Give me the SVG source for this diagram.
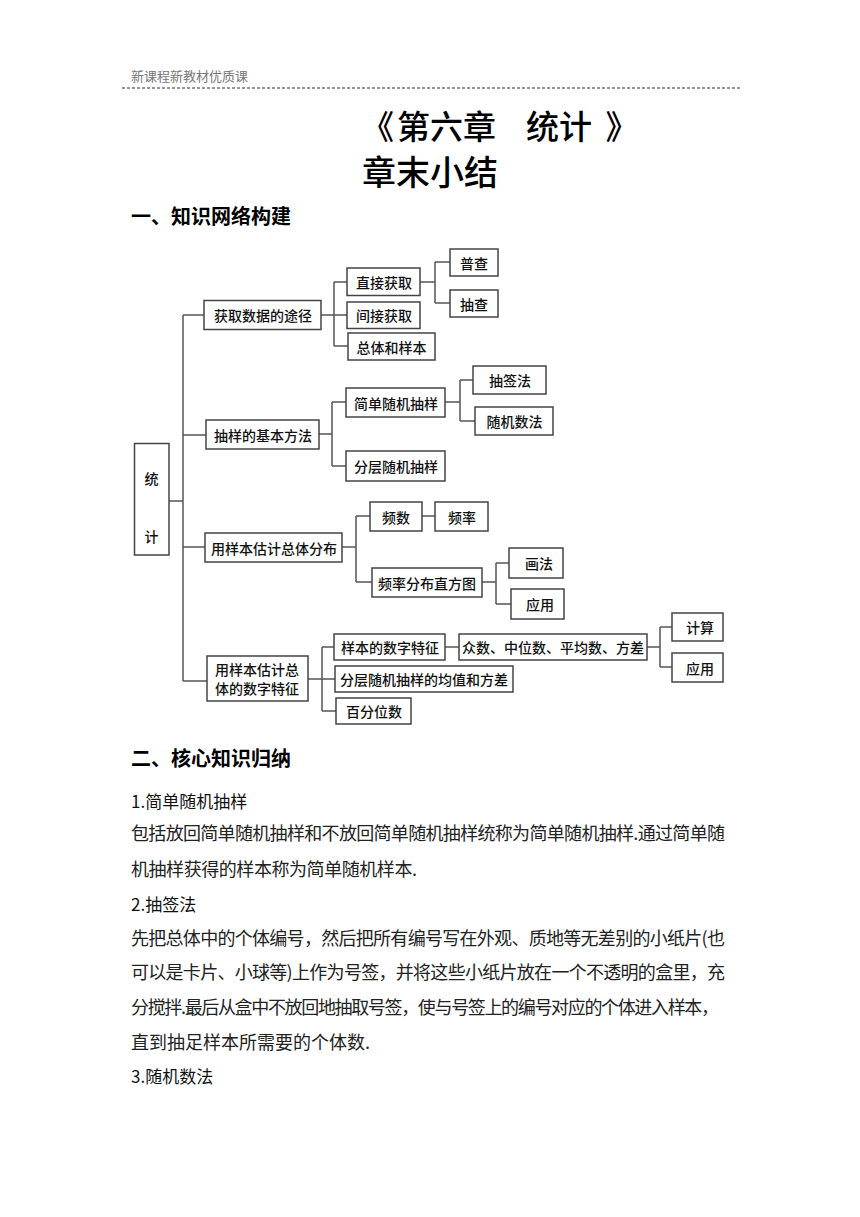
<svg xmlns="http://www.w3.org/2000/svg" width="860" height="1217" viewBox="0 0 860 1217">
<style>
text{font-family:"Noto Sans CJK SC","Noto Sans",sans-serif;dominant-baseline:central;}
.hdr{font-size:13px;fill:#777;}
.t1{font-size:33px;font-weight:500;fill:#000;}
.t2{font-size:34px;font-weight:500;fill:#000;}
.sec{font-size:20px;font-weight:bold;fill:#000;}
.sub{font-size:17px;fill:#111;}
.body{font-size:18px;fill:#222;}
.box rect{fill:#fff;stroke:#444;stroke-width:1.5;}
.box text{font-size:14px;font-weight:500;fill:#111;text-anchor:middle;}
.conn path{fill:none;stroke:#555;stroke-width:1.5;}
</style>
<rect width="860" height="1217" fill="#fff"/>
<text class="hdr" x="131" y="75">新课程新教材优质课</text>
<line x1="122" y1="88" x2="740" y2="88" stroke="#333" stroke-width="1" stroke-dasharray="3,2"/>
<text class="t1" x="394" y="125" text-anchor="end">《</text>
<text class="t1" x="397" y="125">第六章</text>
<text class="t1" x="526" y="125">统计</text>
<text class="t1" x="622" y="125" text-anchor="middle">》</text>
<text class="t2" x="362" y="170">章末小结</text>
<text class="sec" x="131" y="215">一、知识网络构建</text>

<g class="conn">
<path d="M183,315 V681 M183,315 H204 M183,435 H206 M183,547 H205 M183,681 H207 M169,501 H183"/>
<path d="M321,315 H334 M334,282 V346 M334,282 H347 M334,315 H347 M334,346 H348"/>
<path d="M420,282 H435 M435,262 V303 M435,262 H450 M435,303 H450"/>
<path d="M319,434 H332 M332,402 V466 M332,402 H346 M332,466 H346"/>
<path d="M445,402 H460 M460,380 V421 M460,380 H473 M460,421 H475"/>
<path d="M342,547 H356 M356,516 V582 M356,516 H370 M356,582 H372 M422,516 H435"/>
<path d="M482,582 H496 M496,563 V604 M496,563 H509 M496,604 H511"/>
<path d="M308,679 H322 M322,647 V711 M322,647 H334 M322,679 H335 M322,711 H336 M445,647 H459"/>
<path d="M647,647 H660 M660,627 V667 M660,627 H672 M660,667 H672"/>
</g>

<g id="n-tongji" class="box"><rect x="134.5" y="443.5" width="34.5" height="111.5"/><text x="151.5" y="478">统</text><text x="151.5" y="536">计</text></g>

<g id="n-huoqu" class="box"><rect x="204" y="300.5" width="117" height="29"/><text x="263" y="315">获取数据的途径</text></g>
<g id="n-zhijie" class="box"><rect x="347" y="268" width="73" height="27.5"/><text x="384" y="282">直接获取</text></g>
<g id="n-jianjie" class="box"><rect x="347" y="302" width="73" height="26.5"/><text x="384" y="315">间接获取</text></g>
<g id="n-zongti" class="box"><rect x="348" y="333" width="87" height="27"/><text x="391.5" y="346.5">总体和样本</text></g>
<g id="n-pucha" class="box"><rect x="450" y="249" width="48" height="27"/><text x="474" y="262.5">普查</text></g>
<g id="n-choucha" class="box"><rect x="450" y="290" width="48" height="27"/><text x="474" y="303.5">抽查</text></g>

<g id="n-chouyang" class="box"><rect x="206" y="420" width="113" height="29"/><text x="263" y="434.5">抽样的基本方法</text></g>
<g id="n-jiandan" class="box"><rect x="346" y="388" width="99" height="29"/><text x="396" y="402.5">简单随机抽样</text></g>
<g id="n-fenceng" class="box"><rect x="346" y="451" width="99" height="30"/><text x="396" y="466">分层随机抽样</text></g>
<g id="n-chouqian" class="box"><rect x="473" y="366" width="73" height="28"/><text x="510" y="380">抽签法</text></g>
<g id="n-suiji" class="box"><rect x="475" y="407" width="78" height="28"/><text x="514.5" y="421">随机数法</text></g>

<g id="n-fenbu" class="box"><rect x="205" y="533" width="137" height="29"/><text x="274" y="547.5">用样本估计总体分布</text></g>
<g id="n-pinshu" class="box"><rect x="370" y="502" width="52" height="29"/><text x="396" y="516.5">频数</text></g>
<g id="n-pinlv" class="box"><rect x="435" y="502" width="53" height="29"/><text x="462" y="516.5">频率</text></g>
<g id="n-zhifang" class="box"><rect x="372" y="568" width="110" height="29"/><text x="427" y="582.5">频率分布直方图</text></g>
<g id="n-huafa" class="box"><rect x="509" y="548" width="54" height="30"/><text x="539" y="563">画法</text></g>
<g id="n-yingyong1" class="box"><rect x="511" y="589" width="53" height="30"/><text x="540" y="604">应用</text></g>

<g id="n-shuzi" class="box"><rect x="207" y="656" width="101" height="45"/><text x="257" y="669">用样本估计总</text><text x="257" y="688">体的数字特征</text></g>
<g id="n-yangben" class="box"><rect x="334" y="634" width="111" height="26"/><text x="390" y="647">样本的数字特征</text></g>
<g id="n-junzhi" class="box"><rect x="335" y="666" width="178" height="26"/><text x="424" y="679">分层随机抽样的均值和方差</text></g>
<g id="n-baifen" class="box"><rect x="336" y="698" width="75" height="26"/><text x="374" y="711">百分位数</text></g>
<g id="n-zhongshu" class="box"><rect x="459" y="634" width="188" height="26"/><text x="553" y="647">众数、中位数、平均数、方差</text></g>
<g id="n-jisuan" class="box"><rect x="672" y="613" width="51" height="28"/><text x="700" y="627">计算</text></g>
<g id="n-yingyong2" class="box"><rect x="672" y="653" width="51" height="29"/><text x="700" y="667.5">应用</text></g>

<text class="sec" x="131" y="757">二、核心知识归纳</text>
<text class="sub" x="131" y="800">1.简单随机抽样</text>
<text class="body" x="131" y="832" textLength="594" lengthAdjust="spacing">包括放回简单随机抽样和不放回简单随机抽样统称为简单随机抽样.通过简单随</text>
<text class="body" x="131" y="868" textLength="286" lengthAdjust="spacing">机抽样获得的样本称为简单随机样本.</text>
<text class="sub" x="131" y="903">2.抽签法</text>
<text class="body" x="131" y="937" textLength="594" lengthAdjust="spacing">先把总体中的个体编号，然后把所有编号写在外观、质地等无差别的小纸片(也</text>
<text class="body" x="131" y="971" textLength="594" lengthAdjust="spacing">可以是卡片、小球等)上作为号签，并将这些小纸片放在一个不透明的盒里，充</text>
<text class="body" x="131" y="1006" textLength="588" lengthAdjust="spacing">分搅拌.最后从盒中不放回地抽取号签，使与号签上的编号对应的个体进入样本，</text>
<text class="body" x="131" y="1041">直到抽足样本所需要的个体数.</text>
<text class="sub" x="131" y="1075">3.随机数法</text>
</svg>
